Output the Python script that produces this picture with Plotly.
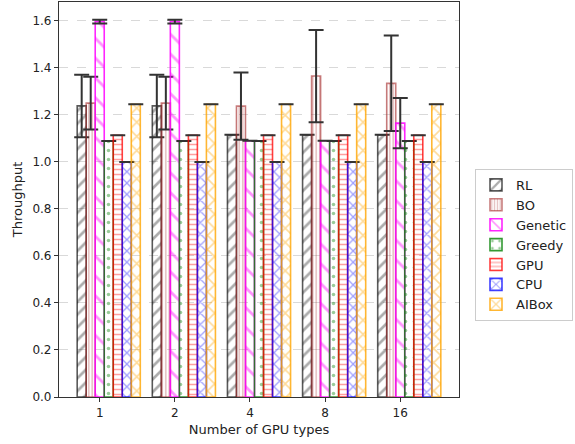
import plotly.graph_objects as go

# Group labels (number of GPU types) and method names
gpu_types = ["1", "2", "4", "8", "16"]
methods = ["RL", "BO", "Genetic", "Greedy", "GPU", "CPU", "AIBox"]

# Mean throughput per method, one value per group
rl = [1.238, 1.238, 1.115, 1.115, 1.115]
bo = [1.250, 1.250, 1.237, 1.365, 1.334]
genetic = [1.597, 1.597, 1.090, 1.090, 1.165]
greedy = [1.089, 1.089, 1.089, 1.089, 1.089]
gpu = [1.113, 1.113, 1.113, 1.113, 1.113]
cpu = [1.000, 1.000, 1.000, 1.000, 1.000]
aibox = [1.245, 1.245, 1.245, 1.245, 1.245]

# Standard deviations
rl_err = [0.133, 0.133, 0.0, 0.0, 0.0]
bo_err = [0.112, 0.112, 0.143, 0.196, 0.203]
genetic_err = [0.008, 0.008, 0.0, 0.0, 0.107]
greedy_err = [0.0] * 5
gpu_err = [0.0] * 5
cpu_err = [0.0] * 5
aibox_err = [0.0] * 5

values = [rl, bo, genetic, greedy, gpu, cpu, aibox]
errors = [rl_err, bo_err, genetic_err, greedy_err, gpu_err, cpu_err, aibox_err]

# Edge / hatch styling per method
styles = [
    dict(color="rgba(0,0,0,0.65)", shape="/", size=9, solidity=0.3),
    dict(color="rgba(165,42,42,0.6)", shape="|", size=3.5, solidity=0.45),
    dict(color="rgba(255,0,255,0.85)", shape="\\", size=14, solidity=0.2),
    dict(color="rgba(0,128,0,0.8)", shape=".", size=9, solidity=0.12),
    dict(color="rgba(255,0,0,0.75)", shape="-", size=5, solidity=0.3),
    dict(color="rgba(0,0,255,0.75)", shape="x", size=8, solidity=0.3),
    dict(color="rgba(255,165,0,0.8)", shape="x", size=10, solidity=0.3),
]

bar_w = 0.12
fig = go.Figure()
for i, (name, vals, errs, st) in enumerate(zip(methods, values, errors, styles)):
    xs = [g + (i - 2) * bar_w for g in range(len(gpu_types))]
    fig.add_trace(go.Bar(
        x=xs, y=vals, width=bar_w, name=name,
        marker=dict(
            color="rgba(0,0,0,0)",
            line=dict(color=st["color"], width=1.6),
            pattern=dict(shape=st["shape"], fgcolor=st["color"], size=st["size"],
                         solidity=st["solidity"], fillmode="overlay",
                         bgcolor="rgba(0,0,0,0)"),
        ),
        error_y=dict(type="data", array=errs, visible=True, color="#333333",
                     thickness=2, width=7.5),
    ))

fig.update_layout(
    width=575, height=444,
    margin=dict(l=59, r=111, t=2, b=47),
    paper_bgcolor="white", plot_bgcolor="white",
    font=dict(family="DejaVu Sans", size=12, color="#222222"),
    barmode="overlay",
    showlegend=True,
    legend=dict(
        x=1.04, xanchor="left", y=0.385, yanchor="middle",
        bordercolor="#cccccc", borderwidth=1, bgcolor="white",
        font=dict(size=13, color="#222222"),
        tracegroupgap=0,
    ),
    xaxis=dict(
        range=[-0.542, 4.782],
        tickvals=list(range(len(gpu_types))), ticktext=gpu_types,
        showgrid=False, zeroline=False,
        showline=True, mirror=True, linecolor="#333333", linewidth=1.2,
        ticks="outside", ticklen=4, tickcolor="#333333",
        title=dict(text="Number of GPU types", font=dict(size=13), standoff=6),
    ),
    yaxis=dict(
        range=[0, 1.68],
        tickvals=[0, 0.2, 0.4, 0.6, 0.8, 1.0, 1.2, 1.4, 1.6],
        tickformat=".1f",
        showgrid=True, gridcolor="#d9d9d9", griddash="dash", gridwidth=1,
        zeroline=False,
        showline=True, mirror=True, linecolor="#333333", linewidth=1.2,
        ticks="outside", ticklen=4, tickcolor="#333333",
        title=dict(text="Throughput", font=dict(size=13), standoff=6),
    ),
)

fig.write_html("out.html")
